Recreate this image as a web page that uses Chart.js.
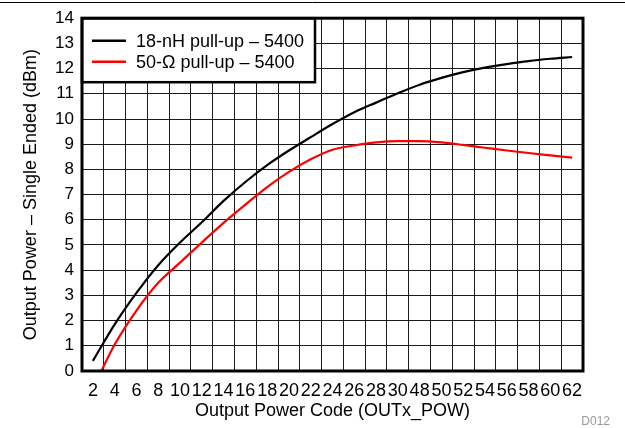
<!DOCTYPE html>
<html>
<head>
<meta charset="utf-8">
<script src="https://cdn.jsdelivr.net/npm/chart.js@4.4.1/dist/chart.umd.min.js"></script>
<style>
  html, body { margin: 0; padding: 0; background: #fff; }
  #wrap { position: relative; width: 625px; height: 428px; }
</style>
</head>
<body>
<div id="wrap"><canvas id="c"></canvas></div>
<script>
const codes = [2,4,6,8,10,12,14,16,18,20,22,24,26,28,30,48,50,52,54,56,58,60,62];
const pullup18nH = [0.4,1.85,3.1,4.2,5.1,5.9,6.75,7.5,8.17,8.75,9.28,9.8,10.27,10.65,11.02,11.36,11.63,11.86,12.04,12.18,12.3,12.39,12.46];
const pullup50 = [-0.7,1.05,2.4,3.5,4.3,5.1,5.88,6.6,7.3,7.9,8.4,8.78,8.95,9.07,9.12,9.12,9.07,8.97,8.86,8.75,8.65,8.56,8.47];
const seriesLabels = ['18-nH pull-up \u2013 5400', '50-\u03A9 pull-up \u2013 5400'];
const seriesColors = ['#000000', '#ff0000'];
const yTicks = [0,1,2,3,4,5,6,7,8,9,10,11,12,13,14];

const FONT = 'Arial, "Liberation Sans", Helvetica, sans-serif';

const decorPlugin = {
  id: 'decor',
  afterDraw(chart) {
    const ctx = chart.ctx;
    const ca = chart.chartArea;
    ctx.save();
    ctx.strokeStyle = '#000';
    ctx.lineWidth = 1;
    ctx.beginPath();
    ctx.moveTo(0, 2.5);
    ctx.lineTo(chart.width, 2.5);
    ctx.stroke();
    const bw = 233, bh = 64;
    ctx.fillStyle = '#fff';
    ctx.fillRect(ca.left, ca.top, bw, bh);
    ctx.lineWidth = 2.5;
    ctx.strokeStyle = '#000';
    ctx.strokeRect(ca.left, ca.top, bw, bh);
    chart.data.datasets.forEach((ds, i) => {
      const y = ca.top + 22.5 + i * 21;
      ctx.strokeStyle = ds.borderColor;
      ctx.lineWidth = 2.5;
      ctx.beginPath();
      ctx.moveTo(ca.left + 10, y);
      ctx.lineTo(ca.left + 44, y);
      ctx.stroke();
      ctx.fillStyle = '#000';
      ctx.font = '18px ' + FONT;
      ctx.textBaseline = 'middle';
      ctx.textAlign = 'left';
      ctx.fillText(ds.label, ca.left + 54, y + 1);
    });
    ctx.strokeStyle = '#000';
    ctx.lineWidth = 3;
    ctx.strokeRect(ca.left, ca.top, ca.right - ca.left, ca.bottom - ca.top);
    ctx.fillStyle = '#999';
    ctx.font = '12px ' + FONT;
    ctx.textAlign = 'right';
    ctx.textBaseline = 'middle';
    ctx.fillText('D012', 610, 422);
    ctx.restore();
  }
};

new Chart(document.getElementById('c'), {
  type: 'line',
  data: {
    labels: codes.map(String),
    datasets: [
      { label: seriesLabels[0], data: pullup18nH, borderColor: seriesColors[0], backgroundColor: seriesColors[0], borderWidth: 2.2, pointRadius: 0, cubicInterpolationMode: 'monotone', fill: false },
      { label: seriesLabels[1], data: pullup50, borderColor: seriesColors[1], backgroundColor: seriesColors[1], borderWidth: 2.2, pointRadius: 0, cubicInterpolationMode: 'monotone', fill: false }
    ]
  },
  options: {
    responsive: true,
    maintainAspectRatio: false,
    animation: false,
    devicePixelRatio: 1,
    layout: { padding: { left: 0, top: 16, right: 42, bottom: 0 } },
    plugins: { legend: { display: false }, tooltip: { enabled: false } },
    scales: {
      x: {
        type: 'category',
        offset: true,
        grid: { offset: true, color: '#1a1a1a', lineWidth: 1, drawTicks: false },
        border: { display: false },
        ticks: { color: '#000', font: { family: FONT, size: 18 }, padding: 9, autoSkip: false, maxRotation: 0, minRotation: 0 },
        title: { display: true, text: 'Output Power Code (OUTx_POW)', color: '#000', font: { family: FONT, size: 18 }, padding: { top: 0, bottom: 6 } },
        afterFit(s) { s.height = 57; }
      },
      y: {
        min: 0,
        max: 14,
        grid: { color: '#1a1a1a', lineWidth: 1, drawTicks: false },
        border: { display: false },
        afterBuildTicks(s) { s.ticks = yTicks.map(v => ({ value: v })); },
        ticks: { color: '#000', font: { family: FONT, size: 17 }, padding: 8, stepSize: 1 },
        title: { display: true, text: 'Output Power \u2013 Single Ended (dBm)', color: '#000', font: { family: FONT, size: 18 }, padding: { top: 20, bottom: 0 } },
        afterFit(s) { s.width = 82; }
      }
    }
  },
  plugins: [decorPlugin]
});
</script>
</body>
</html>
